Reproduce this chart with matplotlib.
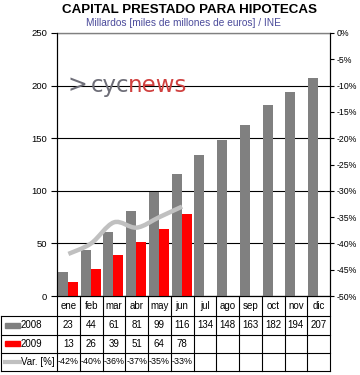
import matplotlib
matplotlib.use('Agg')
import matplotlib.pyplot as plt
import numpy as np
from matplotlib.path import Path
from matplotlib.patches import PathPatch, Rectangle
from matplotlib.ticker import FuncFormatter

plt.rcParams['font.family'] = ['Liberation Sans', 'DejaVu Sans']

months = ['ene', 'feb', 'mar', 'abr', 'may', 'jun', 'jul', 'ago', 'sep', 'oct', 'nov', 'dic']
v2008 = [23, 44, 61, 81, 99, 116, 134, 148, 163, 182, 194, 207]
v2009 = [13, 26, 39, 51, 64, 78]
var_pct = [-42, -40, -36, -37, -35, -33]

gray = '#808080'
red = '#FF0000'
light = '#C0C0C0'

fig = plt.figure(figsize=(3.6, 3.75), dpi=100)

# main axes: pixel box x 57..330, y 33..296
L, R, T, B = 57, 330, 33, 296
ax = fig.add_axes([L / 360, 1 - B / 375, (R - L) / 360, (B - T) / 375])
x = np.arange(len(months))
w = 0.44
ax.bar(x - 0.24, v2008, width=w, color=gray, zorder=3)
ax.bar(np.arange(len(v2009)) + 0.2, v2009, width=w, color=red, zorder=3)
ax.set_xlim(-0.5, 11.5)
ax.set_ylim(0, 250)
ax.set_yticks(range(0, 251, 50))
ax.set_xticks([])
ax.grid(axis='y', color='black', linewidth=0.8, zorder=1)
ax.tick_params(axis='y', direction='out', length=4, width=0.8, labelsize=6.8, pad=3)
ax.spines['top'].set_color(gray)
ax.spines['top'].set_linewidth(1.0)
for s in ['left', 'bottom', 'right']:
    ax.spines[s].set_linewidth(0.8)

ax2 = ax.twinx()
ax2.set_ylim(-50, 0)
ax2.set_yticks(range(-50, 1, 5))
ax2.yaxis.set_major_formatter(FuncFormatter(lambda v, p: f"{int(round(v))}%"))
ax2.tick_params(axis='y', direction='out', length=3, width=0.8, labelsize=6.3, pad=2)
ax2.spines['top'].set_visible(False)
ax2.spines['right'].set_linewidth(0.8)

# smoothed variation line (cubic bezier through the points)
px = np.arange(len(var_pct), dtype=float)
py = np.array(var_pct, dtype=float)
verts = [(px[0], py[0])]
codes = [Path.MOVETO]
n = len(px)
for i in range(n - 1):
    p0 = (px[max(i - 1, 0)], py[max(i - 1, 0)])
    p1 = (px[i], py[i])
    p2 = (px[i + 1], py[i + 1])
    p3 = (px[min(i + 2, n - 1)], py[min(i + 2, n - 1)])
    c1 = (p1[0] + (p2[0] - p0[0]) / 6, p1[1] + (p2[1] - p0[1]) / 6)
    c2 = (p2[0] - (p3[0] - p1[0]) / 6, p2[1] - (p3[1] - p1[1]) / 6)
    verts += [c1, c2, p2]
    codes += [Path.CURVE4] * 3
ax2.add_patch(PathPatch(Path(verts, codes), facecolor='none', edgecolor=light,
                        linewidth=3.2, capstyle='butt', zorder=5))

# titles
fig.text(190 / 360, 1 - 10 / 375, 'CAPITAL PRESTADO PARA HIPOTECAS', ha='center', va='center',
         fontsize=9.6, fontweight='bold')
fig.text(183 / 360, 1 - 22.5 / 375, 'Millardos [miles de millones de euros] / INE', ha='center',
         va='center', fontsize=7.3, color='#4B4B9B')

# watermark logo
fig.text(67 / 360, 1 - 92 / 375, '>', fontsize=17, color='#6E6E78', va='baseline', ha='left',
         family='DejaVu Sans')
fig.text(91 / 360, 1 - 92 / 375, 'cyc', fontsize=16.5, color='#6E6E78', va='baseline',
         ha='left', family='DejaVu Sans')
fig.text(128 / 360, 1 - 92 / 375, 'news', fontsize=16.5, color='#D0403F', va='baseline',
         ha='left', family='DejaVu Sans')

# data table in pixel coords
tab = fig.add_axes([0, 0, 1, 1], zorder=10)
tab.set_xlim(0, 360)
tab.set_ylim(375, 0)
tab.axis('off')
tab.patch.set_alpha(0)
cw = (R - L) / len(months)
rows = [296, 316, 334.5, 353, 371]
lw = 0.8
for i in range(len(months) + 1):
    xe = L + i * cw
    tab.plot([xe, xe], [rows[0], rows[-1]], color='black', lw=lw)
tab.plot([1, 1], [rows[1], rows[-1]], color='black', lw=lw)
for yy in rows[1:]:
    tab.plot([1, R], [yy, yy], color='black', lw=lw)

for i, m in enumerate(months):
    cx = L + (i + 0.5) * cw
    tab.text(cx, (rows[0] + rows[1]) / 2, m, ha='center', va='center', fontsize=7)
    tab.text(cx, (rows[1] + rows[2]) / 2, str(v2008[i]), ha='center', va='center', fontsize=7)
    if i < len(v2009):
        tab.text(cx, (rows[2] + rows[3]) / 2, str(v2009[i]), ha='center', va='center', fontsize=7)
        tab.text(cx, (rows[3] + rows[4]) / 2, f"{var_pct[i]}%", ha='center', va='center',
                 fontsize=6.4)

labels = ['2008', '2009', 'Var. [%]']
for k, lab in enumerate(labels):
    cy = (rows[k + 1] + rows[k + 2]) / 2
    if k == 0:
        tab.add_patch(Rectangle((5, cy - 2.5), 15, 5, color=gray))
    elif k == 1:
        tab.add_patch(Rectangle((5, cy - 2.5), 15, 5, color=red))
    else:
        tab.plot([5, 20], [cy, cy], color=light, lw=3)
    tab.text(21, cy, lab, ha='left', va='center', fontsize=7)

fig.savefig('out.png', dpi=100)
